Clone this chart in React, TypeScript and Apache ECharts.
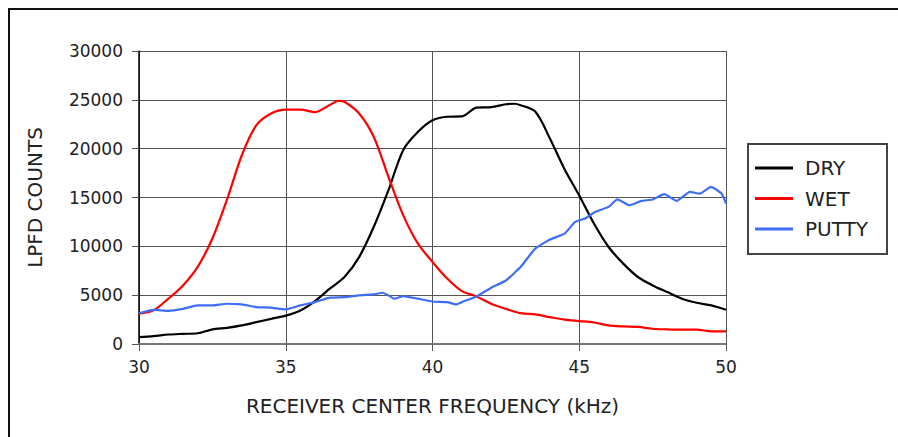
import React, { useEffect, useRef } from "react";
import * as echarts from "echarts";

const dryFreq = [30, 30.5, 31, 31.5, 32, 32.5, 33, 33.5, 34, 34.5, 35, 35.5, 36, 36.5, 37, 37.5, 38, 38.5, 39, 39.5, 40, 40.5, 41, 41.5, 42, 42.5, 42.8, 43, 43.5, 44, 44.5, 45, 45.5, 46, 46.5, 47, 47.5, 48, 48.5, 49, 49.5, 50];
const dryCounts = [700, 800, 970, 1040, 1100, 1500, 1650, 1900, 2240, 2570, 2900, 3440, 4400, 5660, 6860, 8900, 12000, 15750, 19850, 21700, 22900, 23270, 23300, 24200, 24250, 24550, 24600, 24450, 23800, 21050, 17900, 15200, 12330, 9930, 8230, 6860, 6000, 5320, 4640, 4220, 3950, 3500];

const wetFreq = [30, 30.5, 31, 31.5, 32, 32.5, 33, 33.5, 34, 34.5, 35, 35.5, 36, 36.5, 36.8, 37, 37.5, 38, 38.5, 39, 39.5, 40, 40.5, 41, 41.5, 42, 42.5, 43, 43.5, 44, 44.5, 45, 45.5, 46, 46.5, 47, 47.5, 48, 48.5, 49, 49.5, 50];
const wetCounts = [3100, 3450, 4640, 6000, 7900, 10800, 14800, 19300, 22400, 23600, 24000, 24000, 23750, 24470, 24900, 24800, 23600, 21200, 17100, 13200, 10300, 8400, 6700, 5420, 4870, 4120, 3600, 3160, 3030, 2750, 2500, 2350, 2200, 1900, 1800, 1750, 1560, 1500, 1470, 1470, 1300, 1300];

const puttyFreq = [30, 30.5, 31, 31.5, 32, 32.5, 33, 33.5, 34, 34.5, 35, 35.5, 36, 36.5, 37, 37.5, 38, 38.3, 38.5, 38.7, 39, 39.5, 40, 40.5, 40.8, 41, 41.5, 42, 42.5, 43, 43.5, 44, 44.5, 44.86, 45.2, 45.54, 46, 46.3, 46.72, 47.12, 47.5, 47.9, 48.32, 48.77, 49.11, 49.49, 49.85, 50];
const puttyCounts = [3160, 3500, 3400, 3600, 3950, 3950, 4120, 4060, 3780, 3720, 3550, 3950, 4290, 4740, 4800, 4980, 5080, 5250, 4980, 4640, 4900, 4640, 4350, 4290, 4050, 4290, 4870, 5760, 6500, 7880, 9760, 10690, 11300, 12500, 12850, 13520, 14040, 14800, 14200, 14650, 14800, 15340, 14650, 15580, 15400, 16090, 15400, 14380];

const seriesNames = ["DRY", "WET", "PUTTY"];
const seriesColors = ["#000000", "#ff0000", "#3d6ef5"];
const xTitle = "RECEIVER CENTER FREQUENCY (kHz)";
const yTitle = "LPFD COUNTS";

const FONT = "'DejaVu Sans', Verdana, sans-serif";
const TEXT = "#222";

function pairs(xs: number[], ys: number[]) {
  return xs.map((x, i) => [x, ys[i]]);
}

export default function App() {
  const ref = useRef<HTMLDivElement>(null);
  useEffect(() => {
    if (!ref.current) return;
    const chart = echarts.init(ref.current, undefined, { renderer: "svg" });
    const datasets = [pairs(dryFreq, dryCounts), pairs(wetFreq, wetCounts), pairs(puttyFreq, puttyCounts)];
    chart.setOption({
      animation: false,
      backgroundColor: "#ffffff",
      textStyle: { fontFamily: FONT },
      grid: { left: 139, top: 51, width: 587, height: 293, containLabel: false },
      xAxis: {
        type: "value",
        min: 30,
        max: 50,
        interval: 5,
        name: xTitle,
        nameLocation: "middle",
        nameGap: 52,
        nameTextStyle: { fontSize: 20, color: TEXT, fontFamily: FONT },
        axisLine: { show: true, lineStyle: { color: "#777", width: 2 } },
        axisTick: { show: true, length: 7, lineStyle: { color: "#555", width: 1 } },
        axisLabel: { fontSize: 17, color: TEXT, margin: 14, fontFamily: FONT, formatter: (v: number) => String(v) },
        splitLine: { show: true, lineStyle: { color: "#555", width: 1 } },
      },
      yAxis: {
        type: "value",
        min: 0,
        max: 30000,
        interval: 5000,
        name: yTitle,
        nameLocation: "middle",
        nameGap: 94,
        nameRotate: 90,
        nameTextStyle: { fontSize: 20, color: TEXT, fontFamily: FONT },
        axisLine: { show: true, lineStyle: { color: "#000", width: 1.5 } },
        axisTick: { show: true, length: 7, lineStyle: { color: "#555", width: 1 } },
        axisLabel: { fontSize: 17, color: TEXT, margin: 16, fontFamily: FONT, formatter: (v: number) => String(v) },
        splitLine: { show: true, lineStyle: { color: "#555", width: 1 } },
      },
      legend: {
        orient: "vertical",
        left: 755,
        top: 158,
        itemWidth: 38,
        itemHeight: 14,
        itemGap: 10.5,
        padding: 0,
        data: seriesNames.map((n, i) => ({ name: n, icon: "path://M0,6 L38,6 L38,9 L0,9 Z", itemStyle: { color: seriesColors[i] } })),
        textStyle: { fontSize: 20, color: TEXT, fontFamily: FONT, padding: [0, 0, 0, 7] },
      },
      graphic: [
        { type: "line", shape: { x1: 8, y1: 9, x2: 898, y2: 9 }, style: { stroke: "#111", lineWidth: 2 } },
        { type: "line", shape: { x1: 9, y1: 8, x2: 9, y2: 437 }, style: { stroke: "#111", lineWidth: 2 } },
        { type: "rect", shape: { x: 748, y: 144, width: 139, height: 110 }, style: { fill: "none", stroke: "#444", lineWidth: 2 } },
      ],
      series: seriesNames.map((n, i) => ({
        name: n,
        type: "line",
        data: datasets[i],
        symbol: "none",
        smooth: i === 2 ? 0.15 : 0.3,
        lineStyle: { color: seriesColors[i], width: 2.2 },
        itemStyle: { color: seriesColors[i] },
      })),
    });
    return () => chart.dispose();
  }, []);
  return <div ref={ref} style={{ position: "fixed", left: 0, top: 0, width: 898, height: 437 }} />;
}
